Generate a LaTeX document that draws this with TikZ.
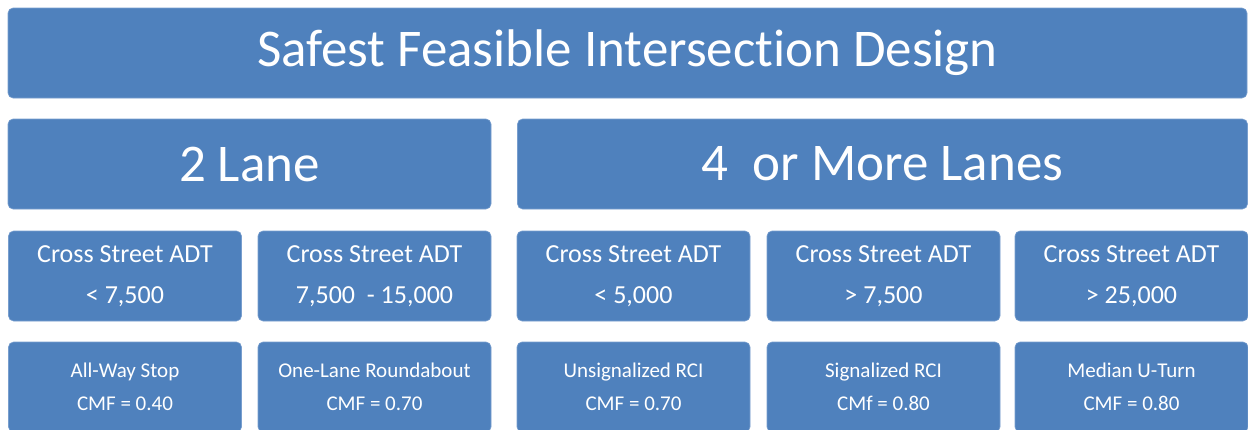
\documentclass[tikz,border=0pt]{standalone}
\usepackage{fontspec}
\setsansfont[Ligatures=NoCommon]{Carlito}

\begin{document}
\begin{tikzpicture}[
    x=1pt, y=-1pt,
    every node/.style={font=\sffamily, text=white},
    box/.style={
        rectangle,
        rounded corners=5pt,
        draw=edgeblue,
        line width=0.6pt,
        fill=boxblue,
        minimum height=90pt,
        inner sep=0pt,
        align=center
    },
    bigbox/.style={box, font=\sffamily\fontsize{53}{60}\selectfont},
    adtbox/.style={box, minimum width=233pt, font=\sffamily\fontsize{26}{41}\selectfont},
    cmfbox/.style={box, minimum width=233pt, font=\sffamily\fontsize{21}{33}\selectfont}
]

\definecolor{boxblue}{RGB}{79, 129, 189}
\definecolor{edgeblue}{RGB}{120, 158, 206}

\useasboundingbox (0, 0) rectangle (1248, 429);
\clip (0, 0) rectangle (1248, 429);

\node[bigbox, minimum width=1239pt] (title) at (627.5, 53) {Safest Feasible Intersection Design};

\node[bigbox, minimum width=483pt] (twolane) at (249.5, 164) {2 Lane};
\node[bigbox, minimum width=730pt] (fourlane) at (882.5, 164) {4~ or More Lanes};

\node[adtbox] (adtA) at (125,   276) {Cross Street ADT\\< 7,500};
\node[adtbox] (adtB) at (374.5, 276) {Cross Street ADT\\7,500~ - 15,000};
\node[adtbox] (adtC) at (633.5, 276) {Cross Street ADT\\< 5,000};
\node[adtbox] (adtD) at (883.5, 276) {Cross Street ADT\\> 7,500};
\node[adtbox] (adtE) at (1131.5, 276) {Cross Street ADT\\> 25,000};

\node[cmfbox] (cmfA) at (125,   387) {All-Way Stop\\CMF = 0.40};
\node[cmfbox] (cmfB) at (374.5, 387) {One-Lane Roundabout\\CMF = 0.70};
\node[cmfbox] (cmfC) at (633.5, 387) {Unsignalized RCI\\CMF = 0.70};
\node[cmfbox] (cmfD) at (883.5, 387) {Signalized RCI\\CMf = 0.80};
\node[cmfbox] (cmfE) at (1131.5, 387) {Median U-Turn\\CMF = 0.80};

\end{tikzpicture}
\end{document}
